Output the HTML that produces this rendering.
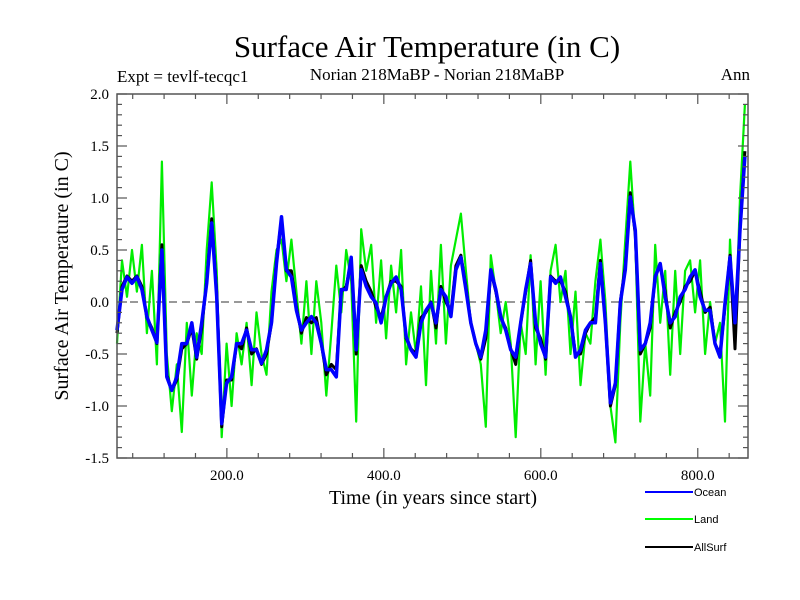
<!DOCTYPE html>
<html><head><meta charset="utf-8"><style>
body{margin:0;background:#fff}
svg{display:block}
.serif{font-family:"Liberation Serif",serif}
.sans{font-family:"Liberation Sans",sans-serif}
</style></head><body>
<svg id="chart" width="800" height="600" xmlns="http://www.w3.org/2000/svg">
<rect width="800" height="600" fill="#fff"/>
<text class="serif" x="427" y="57" font-size="31" text-anchor="middle">Surface Air Temperature (in C)</text>
<text class="serif" x="117" y="82" font-size="17">Expt = tevlf-tecqc1</text>
<text class="serif" x="437" y="80" font-size="17" text-anchor="middle">Norian 218MaBP - Norian 218MaBP</text>
<text class="serif" x="750" y="80" font-size="17" text-anchor="end">Ann</text>
<text class="serif" transform="translate(68,276) rotate(-90)" font-size="20" text-anchor="middle">Surface Air Temperature (in C)</text>
<text class="serif" x="433" y="504" font-size="20" text-anchor="middle">Time (in years since start)</text>
<g id="plot"></g>
<g id="axes"></g>
<g class="sans" font-size="11">
 <line x1="645" y1="492" x2="693" y2="492" stroke="#0000ff" stroke-width="2"/>
 <text x="694" y="496">Ocean</text>
 <line x1="645" y1="519" x2="693" y2="519" stroke="#00ff00" stroke-width="2"/>
 <text x="694" y="523">Land</text>
 <line x1="645" y1="547" x2="693" y2="547" stroke="#000" stroke-width="2"/>
 <text x="694" y="551">AllSurf</text>
</g>
</svg>
<script>
const startYear = 60;
const stepYears = 6.35;
const oceanValues = [-0.27,0.12,0.24,0.18,0.24,0.12,-0.14,-0.27,-0.39,0.5,-0.72,-0.85,-0.72,-0.4,-0.4,-0.2,-0.53,-0.2,0.18,0.76,0.05,-1.17,-0.78,-0.72,-0.4,-0.4,-0.27,-0.46,-0.46,-0.59,-0.46,-0.2,0.37,0.82,0.31,0.24,-0.08,-0.27,-0.2,-0.14,-0.2,-0.4,-0.65,-0.65,-0.72,0.12,0.12,0.43,-0.46,0.31,0.15,0.05,-0.01,-0.2,0.05,0.18,0.24,0.12,-0.33,-0.46,-0.53,-0.2,-0.08,-0.01,-0.2,0.12,0.05,-0.14,0.31,0.43,0.12,-0.2,-0.4,-0.53,-0.27,0.31,0.12,-0.14,-0.27,-0.46,-0.53,-0.2,0.12,0.37,-0.2,-0.4,-0.53,0.24,0.18,0.24,0.05,-0.14,-0.53,-0.46,-0.27,-0.2,-0.2,0.37,-0.2,-0.97,-0.78,-0.01,0.31,1.01,0.69,-0.46,-0.4,-0.2,0.24,0.37,0.05,-0.2,-0.14,0.05,0.12,0.24,0.31,0.05,-0.08,-0.08,-0.4,-0.53,-0.01,0.43,-0.2,0.69,1.4];
const landValues = [-0.4,0.4,0.05,0.5,0.1,0.55,-0.3,0.3,-0.6,1.35,-0.5,-1.05,-0.6,-1.25,-0.2,-0.9,-0.3,-0.5,0.5,1.15,0.3,-1.3,-0.4,-1.0,-0.3,-0.6,-0.2,-0.8,-0.1,-0.5,-0.7,0.1,0.5,0.6,0.2,0.6,0.1,-0.4,0.2,-0.5,0.2,-0.2,-0.9,-0.3,0.35,-0.1,0.5,0.2,-1.15,0.7,0.3,0.55,-0.2,0.4,-0.35,0.35,-0.1,0.5,-0.6,-0.1,-0.5,0.15,-0.8,0.3,-0.4,0.55,-0.4,0.35,0.6,0.85,0.3,-0.2,-0.4,-0.6,-1.2,0.45,0.1,-0.3,0.0,-0.4,-1.3,-0.2,-0.5,0.45,-0.6,0.2,-0.7,0.3,0.55,0.0,0.3,-0.5,0.1,-0.8,-0.3,-0.4,0.2,0.6,0.0,-1.0,-1.35,-0.2,0.6,1.35,0.6,-1.15,-0.4,-0.9,0.55,-0.2,0.3,-0.7,0.3,-0.5,0.3,0.4,-0.1,0.4,-0.5,0.0,-0.4,-0.2,-1.15,0.6,-0.4,1.0,1.9];
const allSurfValues = [-0.3,0.15,0.25,0.2,0.25,0.15,-0.15,-0.25,-0.4,0.55,-0.7,-0.85,-0.75,-0.45,-0.4,-0.25,-0.55,-0.25,0.2,0.8,0.1,-1.2,-0.75,-0.75,-0.4,-0.45,-0.25,-0.5,-0.45,-0.6,-0.5,-0.2,0.4,0.8,0.3,0.3,-0.05,-0.3,-0.15,-0.2,-0.15,-0.4,-0.7,-0.6,-0.65,0.1,0.15,0.4,-0.5,0.35,0.2,0.1,-0.05,-0.15,0.05,0.2,0.2,0.15,-0.35,-0.45,-0.5,-0.15,-0.1,0.0,-0.25,0.15,0.0,-0.1,0.35,0.45,0.15,-0.2,-0.4,-0.55,-0.35,0.3,0.1,-0.15,-0.25,-0.45,-0.6,-0.2,0.1,0.4,-0.25,-0.35,-0.55,0.25,0.2,0.2,0.1,-0.15,-0.5,-0.5,-0.3,-0.2,-0.15,0.4,-0.2,-1.0,-0.8,0.0,0.35,1.05,0.65,-0.5,-0.4,-0.25,0.25,0.35,0.1,-0.25,-0.1,0.0,0.15,0.2,0.3,0.1,-0.1,-0.05,-0.4,-0.5,-0.05,0.45,-0.45,0.7,1.45];
const xTickValues = [200,400,600,800];
const xTickLabels = ["200.0","400.0","600.0","800.0"];
const yTickValues = [-1.5,-1.0,-0.5,0.0,0.5,1.0,1.5,2.0];
const yTickLabels = ["-1.5","-1.0","-0.5","0.0","0.5","1.0","1.5","2.0"];

const NS = "http://www.w3.org/2000/svg";
const L = 117, R = 748, T = 94, B = 458;
const xMin = 60, xMax = 864, yMin = -1.5, yMax = 2.0;
const xs = v => L + (v - xMin) / (xMax - xMin) * (R - L);
const ys = v => B - (v - yMin) / (yMax - yMin) * (B - T);
const plot = document.getElementById('plot');
const axes = document.getElementById('axes');
function mk(tag, attrs, parent){const e=document.createElementNS(NS,tag);for(const k in attrs)e.setAttribute(k,attrs[k]);parent.appendChild(e);return e;}

const zero = mk('line',{x1:L,x2:R,y1:ys(0),y2:ys(0),stroke:'#333','stroke-width':1,'stroke-dasharray':'8,5'},plot);



function series(vals,color,w,name){
  const d = vals.map((v,i)=>(i?'L':'M')+xs(startYear+i*stepYears).toFixed(1)+','+ys(v).toFixed(1)).join('');
  const p = mk('path',{d:d,fill:'none',stroke:color,'stroke-width':w,'stroke-linejoin':'round'},plot);
  
  
}
series(landValues,'#00ee00',2.2,'land-line');
series(allSurfValues,'#000',3,'allsurf-line');
series(oceanValues,'#0000ff',3.5,'ocean-line');

const frame = mk('rect',{x:L,y:T,width:R-L,height:B-T,fill:'none',stroke:'#555','stroke-width':1.5},axes);



for(let v=80; v<=xMax; v+=40){
  const major = v%200===0, len = major?10:5, x=xs(v);
  mk('line',{x1:x,x2:x,y1:B,y2:B-len,stroke:'#555','stroke-width':1.2},axes);
  mk('line',{x1:x,x2:x,y1:T,y2:T+len,stroke:'#555','stroke-width':1.2},axes);
}
for(let k=-15; k<=20; k++){
  const v=k/10, major=k%5===0, len=major?10:5, y=ys(v);
  mk('line',{x1:L,x2:L+len,y1:y,y2:y,stroke:'#555','stroke-width':1.2},axes);
  mk('line',{x1:R,x2:R-len,y1:y,y2:y,stroke:'#555','stroke-width':1.2},axes);
}
xTickValues.forEach((v,i)=>{
  const t = mk('text',{x:xs(v),y:B+22,'font-size':15,'text-anchor':'middle','class':'serif'},axes);
  t.textContent = xTickLabels[i];
  
  
});
yTickValues.forEach((v,i)=>{
  const t = mk('text',{x:L-8,y:ys(v)+5,'font-size':15,'text-anchor':'end','class':'serif'},axes);
  t.textContent = yTickLabels[i];
  
  
});
</script>
</body></html>
